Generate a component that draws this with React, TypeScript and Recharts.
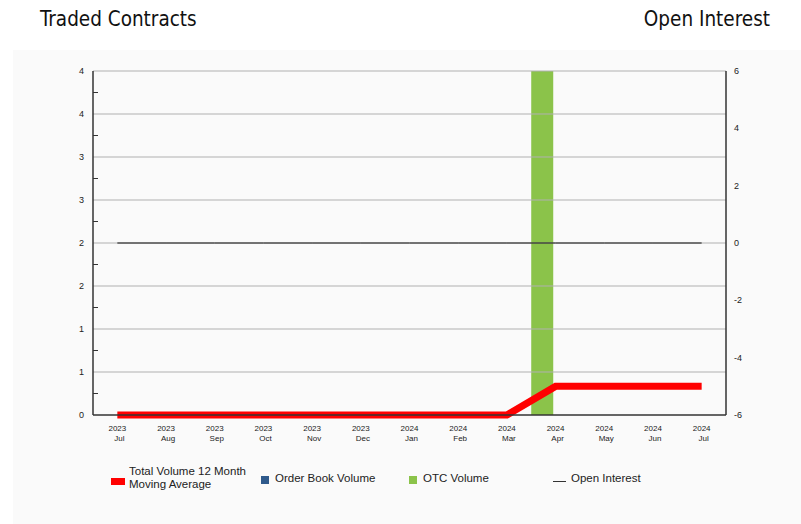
import React from "react"
import { Bar, ComposedChart, Line, ReferenceLine, XAxis, YAxis } from "recharts"

const months = ["Jul", "Aug", "Sep", "Oct", "Nov", "Dec", "Jan", "Feb", "Mar", "Apr", "May", "Jun", "Jul"]
const years = ["2023", "2023", "2023", "2023", "2023", "2023", "2024", "2024", "2024", "2024", "2024", "2024", "2024"]
const otcVolume = [0, 0, 0, 0, 0, 0, 0, 0, 0, 4, 0, 0, 0]
const orderBookVolume = [0, 0, 0, 0, 0, 0, 0, 0, 0, 0, 0, 0, 0]
const movingAverage = [0, 0, 0, 0, 0, 0, 0, 0, 0, 0.333, 0.333, 0.333, 0.333]
const openInterest = [0, 0, 0, 0, 0, 0, 0, 0, 0, 0, 0, 0, 0]

const leftTicks = [0, 0.25, 0.5, 0.75, 1, 1.25, 1.5, 1.75, 2, 2.25, 2.5, 2.75, 3, 3.25, 3.5, 3.75, 4]
const gridValues = [0.5, 1, 1.5, 2, 2.5, 3, 3.5, 4]
const rightTicks = [-6, -4, -2, 0, 2, 4, 6]

const data = months.map((m, i) => ({
  key: `${years[i]}-${m}`,
  month: m,
  year: years[i],
  otc: otcVolume[i],
  orderBook: orderBookVolume[i],
  avg: movingAverage[i],
  oi: openInterest[i],
}))

const axisFont = "'Liberation Sans', Arial, sans-serif"
const axisColor = "#333"

const LeftTick = (props: any) => {
  const { x, y, payload } = props
  const v = payload.value
  const axisX = x + 9
  if (Math.round(v * 2) !== v * 2) {
    return <line x1={axisX} x2={axisX + 5} y1={y} y2={y} stroke={axisColor} strokeWidth={1} />
  }
  return (
    <text x={x} y={y} dy={3} textAnchor="end" fontSize={9} fontFamily={axisFont} fill="#222">
      {Math.round(v)}
    </text>
  )
}

const RightTick = (props: any) => {
  const { x, y, payload } = props
  return (
    <text x={x} y={y} dy={3} textAnchor="start" fontSize={9} fontFamily={axisFont} fill="#222">
      {payload.value}
    </text>
  )
}

const MonthTick = (props: any) => {
  const { x, y, index } = props
  return (
    <g>
      <text x={x} y={y + 8} textAnchor="middle" fontSize={8} fontFamily={axisFont} fill="#222">
        {years[index]}
      </text>
      <text x={x + 2} y={y + 18} textAnchor="middle" fontSize={8} fontFamily={axisFont} fill="#222">
        {months[index]}
      </text>
    </g>
  )
}

const legendText: React.CSSProperties = {
  position: "absolute",
  fontFamily: axisFont,
  fontSize: 11.5,
  lineHeight: "13px",
  color: "#222",
  whiteSpace: "nowrap",
}

const titleStyle: React.CSSProperties = {
  position: "absolute",
  top: 7,
  fontFamily: "'DejaVu Sans Condensed', 'DejaVu Sans', sans-serif",
  fontSize: 20.5,
  color: "#111",
}

export default function App() {
  return (
    <div style={{ position: "absolute", left: 0, top: 0, width: 801, height: 524, background: "#fff", overflow: "hidden" }}>
      <div style={{ position: "absolute", left: 13, top: 50, width: 788, height: 474, background: "#fafafa" }} />
      <div style={{ ...titleStyle, left: 40 }}>Traded Contracts</div>
      <div style={{ ...titleStyle, right: 31 }}>Open Interest</div>
      <div style={{ position: "absolute", left: 0, top: 0 }}>
        <ComposedChart
          width={801}
          height={524}
          data={data}
          margin={{ top: 71, left: 53, right: 35, bottom: 79 }}
          barSize={22}
          barGap={4}
        >
          {gridValues.map((v) => (
            <ReferenceLine key={v} yAxisId="left" y={v} stroke="#b0b0b0" strokeWidth={1} ifOverflow="extendDomain" />
          ))}
          <XAxis
            dataKey="key"
            height={30}
            interval={0}
            tickLine={false}
            tick={<MonthTick />}
            stroke={axisColor}
            axisLine={{ stroke: axisColor, strokeWidth: 1.5 }}
          />
          <YAxis
            yAxisId="left"
            orientation="left"
            width={40}
            domain={[0, 4]}
            ticks={leftTicks}
            interval={0}
            tickSize={0}
            tickMargin={9}
            tickLine={false}
            tick={<LeftTick />}
            axisLine={{ stroke: axisColor, strokeWidth: 1.5 }}
          />
          <YAxis
            yAxisId="right"
            orientation="right"
            width={40}
            domain={[-6, 6]}
            ticks={rightTicks}
            interval={0}
            tickSize={0}
            tickMargin={8}
            tickLine={false}
            tick={<RightTick />}
            axisLine={{ stroke: axisColor, strokeWidth: 1.5 }}
          />
          <Bar yAxisId="left" dataKey="otc" fill="#8bc34a" isAnimationActive={false} />
          <Bar yAxisId="left" dataKey="orderBook" fill="#2f5a8c" isAnimationActive={false} />
          <Line
            yAxisId="right"
            dataKey="oi"
            stroke="#111"
            strokeWidth={1}
            dot={false}
            activeDot={false}
            type="linear"
            isAnimationActive={false}
          />
          <Line
            yAxisId="left"
            dataKey="avg"
            stroke="#ff0000"
            strokeWidth={7}
            dot={false}
            activeDot={false}
            type="linear"
            isAnimationActive={false}
          />
        </ComposedChart>
      </div>
      <div style={{ position: "absolute", left: 111, top: 478, width: 14, height: 7, background: "#ff0000" }} />
      <div style={{ ...legendText, left: 129, top: 465 }}>
        Total Volume 12 Month
        <br />
        Moving Average
      </div>
      <div style={{ position: "absolute", left: 261, top: 476, width: 8, height: 8, background: "#2f5a8c" }} />
      <div style={{ ...legendText, left: 275, top: 472 }}>Order Book Volume</div>
      <div style={{ position: "absolute", left: 409, top: 476, width: 8, height: 8, background: "#8bc34a" }} />
      <div style={{ ...legendText, left: 423, top: 472 }}>OTC Volume</div>
      <div style={{ position: "absolute", left: 553, top: 481, width: 13, height: 1, background: "#333" }} />
      <div style={{ ...legendText, left: 571, top: 472 }}>Open Interest</div>
    </div>
  )
}
